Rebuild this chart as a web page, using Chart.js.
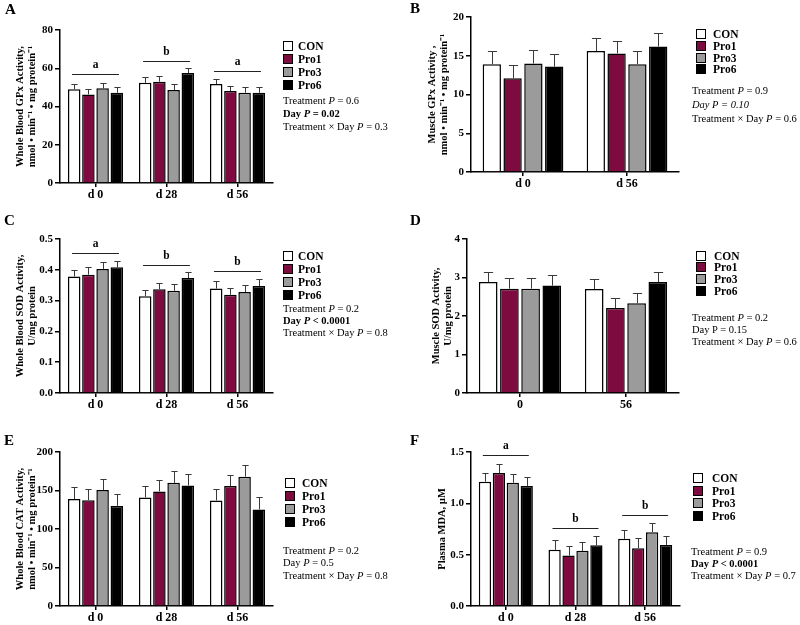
<!DOCTYPE html>
<html><head><meta charset="utf-8">
<script src="https://cdn.jsdelivr.net/npm/chart.js@4.4.1/dist/chart.umd.min.js"></script>
<style>
body{margin:0;background:#fff;}
#wrap{position:relative;width:800px;height:625px;overflow:hidden;background:#fff;font-family:'Liberation Serif','Times New Roman',serif;color:#000;}
#wrap canvas{position:absolute;}
.plab{position:absolute;font-weight:bold;font-size:15px;line-height:14px;}
.legtxt{position:absolute;font-weight:bold;font-size:11.5px;line-height:14px;white-space:nowrap;}
.sw{position:absolute;width:8px;height:8px;border:1.5px solid #000;}
.stat{position:absolute;font-size:10.5px;line-height:14px;white-space:nowrap;}
</style>
</head><body><div id="wrap"></div>
<script>
// ---------- shared ----------
const treatments = ['CON', 'Pro1', 'Pro3', 'Pro6'];
const barColors = ['#ffffff', '#7d0b3f', '#9b9b9b', '#000000'];
const daysThree = ['d 0', 'd 28', 'd 56'];
const daysMuscleGPx = ['d 0', 'd 56'];
const daysMuscleSOD = ['0', '56'];

// ---------- A: whole blood GPx ----------
const gpxBloodMean = [[49.0, 52.4, 51.7], [46.3, 53.0, 48.1], [49.5, 48.6, 47.2], [47.2, 57.5, 47.2]];
const gpxBloodSem  = [[2.7, 2.8, 2.8], [3.0, 2.7, 2.8], [2.9, 3.0, 2.8], [2.8, 2.8, 2.8]];
const gpxBloodTicks = [0, 20, 40, 60, 80];
const gpxBloodSig = [['a', 57], ['b', 64], ['a', 58.5]];
const gpxBloodTitle = ['Whole Blood GPx Activity,', 'nmol \u2022 min\u207B\u00B9 \u2022 mg protein\u207B\u00B9'];
const gpxBloodStats = ['Treatment <i>P</i> = 0.6', '<b>Day <i>P</i> = 0.02</b>', 'Treatment \u00D7 Day <i>P</i> = 0.3'];

// ---------- B: muscle GPx ----------
const gpxMuscleMean = [[13.9, 15.6], [12.1, 15.3], [14.0, 13.9], [13.6, 16.2]];
const gpxMuscleSem  = [[1.7, 1.7], [1.7, 1.6], [1.7, 1.7], [1.6, 1.7]];
const gpxMuscleTicks = [0, 5, 10, 15, 20];
const gpxMuscleTitle = ['Muscle GPx Activity ,', 'nmol \u2022 min\u207B\u00B9 \u2022 mg protein\u207B\u00B9'];
const gpxMuscleStats = ['Treatment <i>P</i> = 0.9', '<i>Day P = 0.10</i>', 'Treatment \u00D7 Day <i>P</i> = 0.6'];

// ---------- C: whole blood SOD ----------
const sodBloodMean = [[0.378, 0.314, 0.339], [0.384, 0.337, 0.319], [0.403, 0.332, 0.328], [0.408, 0.373, 0.347]];
const sodBloodSem  = [[0.020, 0.020, 0.024], [0.024, 0.019, 0.021], [0.021, 0.022, 0.023], [0.019, 0.021, 0.022]];
const sodBloodTicks = [0, 0.1, 0.2, 0.3, 0.4, 0.5];
const sodBloodSig = [['a', 0.453], ['b', 0.416], ['b', 0.397]];
const sodBloodTitle = ['Whole Blood SOD Activity,', 'U/mg protein'];
const sodBloodStats = ['Treatment <i>P</i> = 0.2', '<b>Day <i>P</i> &lt; 0.0001</b>', 'Treatment \u00D7 Day <i>P</i> = 0.8'];

// ---------- D: muscle SOD ----------
const sodMuscleMean = [[2.88, 2.70], [2.71, 2.21], [2.71, 2.33], [2.79, 2.88]];
const sodMuscleSem  = [[0.25, 0.26], [0.27, 0.27], [0.27, 0.27], [0.27, 0.27]];
const sodMuscleTicks = [0, 1, 2, 3, 4];
const sodMuscleTitle = ['Muscle SOD Activity,', 'U/mg protein'];
const sodMuscleStats = ['Treatment <i>P</i> = 0.2', 'Day P = 0.15', 'Treatment \u00D7 Day <i>P</i> = 0.6'];

// ---------- E: whole blood CAT ----------
const catBloodMean = [[139, 141, 137], [137.5, 148.8, 155.7], [150.5, 160, 168], [130, 156.6, 125.4]];
const catBloodSem  = [[16, 15, 15], [14.5, 14.7, 14.3], [15, 15.7, 15], [16, 14.4, 16.5]];
const catBloodTicks = [0, 50, 100, 150, 200];
const catBloodTitle = ['Whole Blood CAT Activity,', 'nmol \u2022 min\u207B\u00B9 \u2022 mg protein\u207B\u00B9'];
const catBloodStats = ['Treatment <i>P</i> = 0.2', 'Day <i>P</i> = 0.5', 'Treatment \u00D7 Day <i>P</i> = 0.8'];

// ---------- F: plasma MDA ----------
const mdaMean = [[1.21, 0.547, 0.654], [1.295, 0.491, 0.563], [1.20, 0.537, 0.719], [1.17, 0.592, 0.595]];
const mdaSem  = [[0.085, 0.091, 0.091], [0.088, 0.092, 0.097], [0.089, 0.088, 0.088], [0.090, 0.091, 0.085]];
const mdaTicks = [0, 0.5, 1.0, 1.5];
const mdaSig = [['a', 1.474], ['b', 0.758], ['b', 0.882]];
const mdaTitle = 'Plasma MDA, \u00B5M';
const mdaStats = ['Treatment <i>P</i> = 0.9', '<b>Day <i>P</i> &lt; 0.0001</b>', 'Treatment \u00D7 Day <i>P</i> = 0.7'];

// ---------- layout (positions only) ----------
const panels = [
  {id: 'A', box: [0, 0, 400, 205], area: {left: 60, top: 30, right: 273, bottom: 183}, labels: daysThree,
   mean: gpxBloodMean, sem: gpxBloodSem, ticks: gpxBloodTicks, dec: 0, title: gpxBloodTitle, titlePad: 14, sig: gpxBloodSig,
   letter: [5, 9], legend: {bx: 283, tx: 298, rows: [46, 59, 72, 85]}, stats: {x: 283, rows: [101, 114, 127], lines: gpxBloodStats}},
  {id: 'B', box: [400, 0, 400, 205], area: {left: 471, top: 17, right: 679, bottom: 172}, labels: daysMuscleGPx,
   mean: gpxMuscleMean, sem: gpxMuscleSem, ticks: gpxMuscleTicks, dec: 0, title: gpxMuscleTitle, titlePad: 26, sig: null,
   letter: [410, 8], legend: {bx: 696, tx: 713, rows: [34, 46, 58, 69]}, stats: {x: 692, rows: [91, 105, 119], lines: gpxMuscleStats}},
  {id: 'C', box: [0, 205, 400, 210], area: {left: 60, top: 239, right: 273, bottom: 393}, labels: daysThree,
   mean: sodBloodMean, sem: sodBloodSem, ticks: sodBloodTicks, dec: 1, title: sodBloodTitle, titlePad: 14, sig: sodBloodSig,
   letter: [4, 220], legend: {bx: 283, tx: 298, rows: [256, 269, 282, 295]}, stats: {x: 283, rows: [309, 321, 333], lines: sodBloodStats}},
  {id: 'D', box: [400, 205, 400, 210], area: {left: 467, top: 239, right: 679, bottom: 393}, labels: daysMuscleSOD,
   mean: sodMuscleMean, sem: sodMuscleSem, ticks: sodMuscleTicks, dec: 0, title: sodMuscleTitle, titlePad: 30, sig: null,
   letter: [410, 220], legend: {bx: 696, tx: 714, rows: [256, 267, 279, 291]}, stats: {x: 692, rows: [318, 330, 342], lines: sodMuscleStats}},
  {id: 'E', box: [0, 415, 400, 210], area: {left: 60, top: 452, right: 273, bottom: 606}, labels: daysThree,
   mean: catBloodMean, sem: catBloodSem, ticks: catBloodTicks, dec: 0, title: catBloodTitle, titlePad: 14, sig: null,
   letter: [4, 440], legend: {bx: 285, tx: 302, rows: [483, 496, 509, 522]}, stats: {x: 283, rows: [551, 563, 576], lines: catBloodStats}},
  {id: 'F', box: [400, 415, 400, 210], area: {left: 471, top: 452, right: 680, bottom: 606}, labels: daysThree,
   mean: mdaMean, sem: mdaSem, ticks: mdaTicks, dec: 1, title: mdaTitle, titlePad: 36, sig: mdaSig,
   letter: [410, 440], legend: {bx: 693, tx: 712, rows: [478, 491, 503, 516]}, stats: {x: 691, rows: [552, 564, 576], lines: mdaStats}}
];

Chart.defaults.font.family = "'Liberation Serif', 'Times New Roman', serif";
Chart.defaults.color = '#000';

const extrasPlugin = {
  id: 'extras',
  afterDatasetsDraw(chart, args, opts) {
    const ctx = chart.ctx;
    const ys = chart.scales.y, xs = chart.scales.x;
    ctx.save();
    // error bars (upper only)
    ctx.strokeStyle = '#3a3a3a';
    ctx.lineWidth = 1;
    opts.sem.forEach((arr, di) => {
      const meta = chart.getDatasetMeta(di);
      arr.forEach((s, j) => {
        const el = meta.data[j];
        const m = opts.mean[di][j];
        const y0 = ys.getPixelForValue(m);
        const y1 = Math.round(ys.getPixelForValue(m + s)) + 0.5;
        const x = Math.round(el.x) + 0.5;
        const hw = el.width * 0.25;
        ctx.beginPath();
        ctx.moveTo(x, y0);
        ctx.lineTo(x, y1);
        ctx.moveTo(x - hw, y1);
        ctx.lineTo(x + hw, y1);
        ctx.stroke();
      });
    });
    // significance lines
    if (opts.sig) {
      const cw = xs.width / chart.data.labels.length;
      ctx.strokeStyle = '#222';
      ctx.fillStyle = '#000';
      ctx.font = "bold 11.5px 'Liberation Serif', serif";
      ctx.textAlign = 'center';
      ctx.textBaseline = 'middle';
      opts.sig.forEach((sg, j) => {
        const cx = xs.getPixelForValue(j);
        const y = Math.round(ys.getPixelForValue(sg[1])) + 0.5;
        ctx.beginPath();
        ctx.moveTo(cx - cw * 0.33, y);
        ctx.lineTo(cx + cw * 0.33, y);
        ctx.stroke();
        ctx.fillText(sg[0], cx, y - 9);
      });
    }
    ctx.restore();
  }
};

const wrap = document.getElementById('wrap');

function addDiv(cls, left, top, html) {
  const d = document.createElement('div');
  d.className = cls;
  d.style.left = left + 'px';
  d.style.top = top + 'px';
  d.innerHTML = html;
  wrap.appendChild(d);
  return d;
}

panels.forEach(p => {
  const [bx, by, bw, bh] = p.box;
  const cv = document.createElement('canvas');
  cv.width = bw; cv.height = bh;
  cv.style.left = bx + 'px'; cv.style.top = by + 'px';
  cv.style.width = bw + 'px'; cv.style.height = bh + 'px';
  wrap.appendChild(cv);

  const yWidth = p.area.left - bx;
  const xHeight = by + bh - p.area.bottom;
  const tmin = p.ticks[0], tmax = p.ticks[p.ticks.length - 1];
  const step = p.ticks[1] - p.ticks[0];

  new Chart(cv, {
    type: 'bar',
    data: {
      labels: p.labels,
      datasets: treatments.map((t, i) => ({
        label: t,
        data: p.mean[i],
        backgroundColor: barColors[i],
        borderColor: '#000',
        borderWidth: 1.5,
        barPercentage: 0.88,
        categoryPercentage: 0.8
      }))
    },
    options: {
      responsive: false,
      devicePixelRatio: 1,
      animation: false,
      layout: {padding: {left: 0, top: p.area.top - by, right: bx + bw - p.area.right, bottom: 0}},
      plugins: {
        legend: {display: false},
        tooltip: {enabled: false},
        extras: {mean: p.mean, sem: p.sem, sig: p.sig}
      },
      scales: {
        x: {
          type: 'category',
          offset: true,
          grid: {offset: false, drawOnChartArea: false, drawTicks: true, tickLength: 4, color: '#000', lineWidth: 1.5},
          border: {display: true, color: '#000', width: 1.5},
          ticks: {font: {size: 12, weight: 'bold'}, color: '#000', padding: 1, maxRotation: 0},
          afterFit: s => { s.height = xHeight; }
        },
        y: {
          min: tmin, max: tmax,
          grid: {drawOnChartArea: false, drawTicks: true, tickLength: 5, color: '#000', lineWidth: 1.5},
          border: {display: true, color: '#000', width: 1.5},
          ticks: {stepSize: step, font: {size: 11, weight: 'bold'}, color: '#000', padding: 2,
                  callback: v => Number(v).toFixed(p.dec)},
          title: {display: true, text: p.title, color: '#000', font: {size: 10.5, weight: 'bold', lineHeight: 1.15},
                  padding: {top: p.titlePad, bottom: 0}},
          afterFit: s => { s.width = yWidth; }
        }
      }
    },
    plugins: [extrasPlugin]
  });

  // panel letter
  addDiv('plab', p.letter[0], p.letter[1] - 7, p.id);
  // legend
  treatments.forEach((t, i) => {
    const r = p.legend.rows[i];
    const sw = addDiv('sw', p.legend.bx, r - 5.5, '');
    sw.style.background = barColors[i];
    addDiv('legtxt', p.legend.tx, r - 7, t);
  });
  // stats
  p.stats.lines.forEach((ln, i) => addDiv('stat', p.stats.x, p.stats.rows[i] - 7, ln));
});
</script>
</body></html>
